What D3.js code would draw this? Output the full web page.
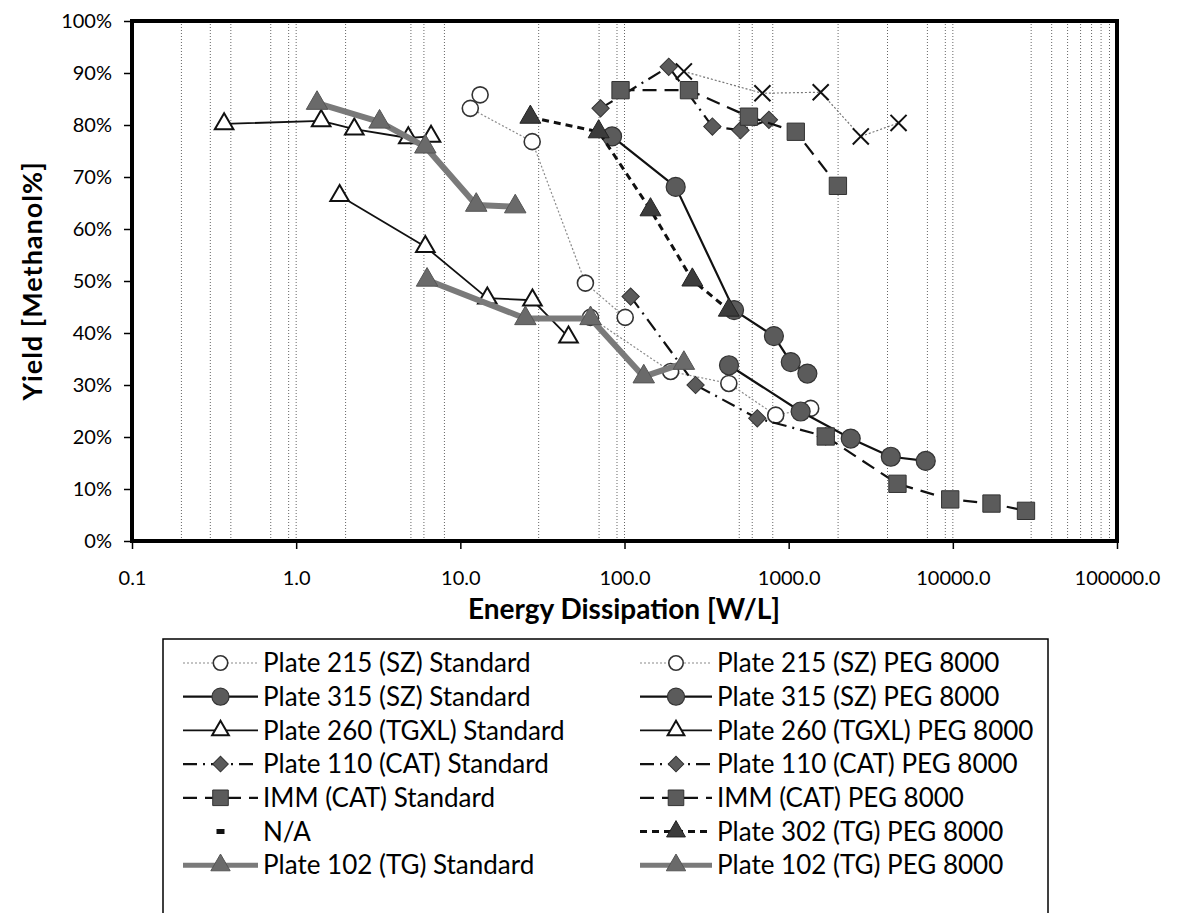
<!DOCTYPE html>
<html><head><meta charset="utf-8">
<script src="https://cdn.jsdelivr.net/npm/d3@7"></script>
<style>
body{margin:0;background:#fff;}
text{font-family:Lato,"Liberation Sans",sans-serif;fill:#000;}
</style></head>
<body>
<svg id="c" width="1179" height="913"></svg>
<script>
// ---------- data ----------
const xTicks = [0.1, 1, 10, 100, 1000, 10000, 100000];
const xTickLabels = ["0.1", "1.0", "10.0", "100.0", "1000.0", "10000.0", "100000.0"];
const yTicks = [0, 10, 20, 30, 40, 50, 60, 70, 80, 90, 100];
const yTickLabels = ["0%", "10%", "20%", "30%", "40%", "50%", "60%", "70%", "80%", "90%", "100%"];
// vertical gridlines visible in the reference
const gridValues = [0.2, 0.3, 0.4, 0.7, 0.9, 1, 2, 5, 6, 8, 30, 70, 90, 100, 500, 600, 800,
  2000, 4000, 7000, 9000, 10000, 30000, 40000, 50000, 60000, 70000, 80000, 90000];

const plate215Std = [[11.5, 83.2], [27.4, 76.8], [57.8, 49.6], [101, 43.0]];
const plate215Peg = [[13.2, 85.8], [null, null], [62, 43.0], [191, 32.6], [432, 30.3], [834, 24.2], [1362, 25.5]];
const plate315Std = [[84, 77.8], [205, 68.1], [465, 44.4], [813, 39.4], [1030, 34.4], [1300, 32.2]];
const plate315Peg = [[433, 33.8], [1183, 24.9], [2388, 19.7], [4190, 16.2], [6840, 15.4]];
const plate260Std = [[0.364, 80.2], [1.42, 80.8], [2.26, 79.2], [4.82, 77.5], [6.63, 77.8]];
const plate260Peg = [[1.84, 66.4], [6.12, 56.6], [14.6, 46.7], [27.5, 46.3], [45.6, 39.2]];
const plate110Std = [[109, 47.0], [271, 30.0], [644, 23.6], [1682, 20.1]];
const plate110Peg = [[71.5, 83.2], [186, 91.2], [343, 79.7], [509, 79.0], [758, 81.0]];
const immStd = [[1682, 20.1], [4600, 11.0], [9640, 8.0], [17200, 7.2], [27900, 5.8]];
const immPeg = [[94.6, 86.7], [247, 86.7], [573, 81.6], [1105, 78.7], [1995, 68.3]];
const naSeries = [[230, 90.3], [692, 86.1], [1567, 86.3], [2750, 77.8], [4670, 80.4]];
const plate302Peg = [[26.7, 81.5], [69.6, 78.7], [144, 63.7], [259, 50.2], [432, 44.4]];
const plate102Std = [[6.27, 50.2], [24.9, 42.8], [62.1, 42.8], [131, 31.6], [230, 34.2]];
const plate102Peg = [[1.34, 84.2], [3.22, 80.6], [6.12, 75.8], [12.5, 64.6], [21.6, 64.3]];

const legendLeft = ["Plate 215 (SZ) Standard", "Plate 315 (SZ) Standard", "Plate 260 (TGXL) Standard",
  "Plate 110 (CAT) Standard", "IMM (CAT) Standard", "N/A", "Plate 102 (TG) Standard"];
const legendRight = ["Plate 215 (SZ) PEG 8000", "Plate 315 (SZ) PEG 8000", "Plate 260 (TGXL) PEG 8000",
  "Plate 110 (CAT) PEG 8000", "IMM (CAT) PEG 8000", "Plate 302 (TG) PEG 8000", "Plate 102 (TG) PEG 8000"];

// ---------- styles ----------
const FILL = "#5b5b5b";
const styles = {
  s215: {stroke: "#8a8a8a", width: 1.2, dash: "2,2", marker: "openCircle"},
  s315: {stroke: "#111", width: 2.2, dash: null, marker: "filledCircle"},
  s260: {stroke: "#111", width: 1.8, dash: null, marker: "openTriangle"},
  s110: {stroke: "#111", width: 2.2, dash: "14,6,2,6", marker: "diamond"},
  simm: {stroke: "#111", width: 2.2, dash: "14,8", marker: "square"},
  sna: {stroke: "#777", width: 1.2, dash: "2,2", marker: "times"},
  s302: {stroke: "#111", width: 3, dash: "7,5", marker: "filledTriangle"},
  s102: {stroke: "#7a7a7a", width: 6, dash: null, marker: "bigTriangle"}
};

const series = [
  {data: plate215Std, st: styles.s215},
  {data: plate215Peg, st: styles.s215},
  {data: plate315Std, st: styles.s315},
  {data: plate315Peg, st: styles.s315},
  {data: plate260Std, st: styles.s260},
  {data: plate260Peg, st: styles.s260},
  {data: plate110Std, st: styles.s110},
  {data: plate110Peg, st: styles.s110},
  {data: immStd, st: styles.simm},
  {data: immPeg, st: styles.simm},
  {data: naSeries, st: styles.sna},
  {data: plate302Peg, st: styles.s302},
  {data: plate102Std, st: styles.s102},
  {data: plate102Peg, st: styles.s102}
];

// ---------- layout ----------
const svg = d3.select("#c");
const L = 132, R = 1117, T = 21, B = 541;
const x = d3.scaleLog().domain([0.1, 100000]).range([L, R]);
const y = d3.scaleLinear().domain([0, 100]).range([B, T]);

svg.append("g").selectAll("line").data(gridValues).join("line")
  .attr("x1", d => x(d)).attr("x2", d => x(d)).attr("y1", T).attr("y2", B)
  .attr("stroke", "#666").attr("stroke-width", 1).attr("stroke-dasharray", "1,2");

// axes
const xAxis = d3.axisBottom(x).tickValues(xTicks).tickFormat((d, i) => xTickLabels[i]).tickSize(8).tickPadding(22);
const gx = svg.append("g").attr("transform", `translate(0,${B})`).call(xAxis);
gx.select(".domain").remove();
gx.selectAll("line").attr("stroke", "#000").attr("stroke-width", 1.5);
gx.selectAll("text").attr("font-size", 20).attr("font-family", "Lato");

const yAxis = d3.axisLeft(y).tickValues(yTicks).tickFormat((d, i) => yTickLabels[i]).tickSize(8).tickPadding(12);
const gy = svg.append("g").attr("transform", `translate(${L},0)`).call(yAxis);
gy.select(".domain").remove();
gy.selectAll("line").attr("stroke", "#000").attr("stroke-width", 1.5);
gy.selectAll("text").attr("font-size", 20).attr("font-family", "Lato");

// markers
function drawMarker(g, type, cx, cy, scale) {
  scale = scale || 1;
  const t = `translate(${cx},${cy})`;
  if (type === "openCircle") {
    g.append("circle").attr("cx", cx).attr("cy", cy).attr("r", 8 * scale)
      .attr("fill", "#fff").attr("stroke", "#333").attr("stroke-width", 1.6);
  } else if (type === "filledCircle") {
    g.append("circle").attr("cx", cx).attr("cy", cy).attr("r", 9.5 * scale)
      .attr("fill", FILL).attr("stroke", "#333").attr("stroke-width", 1.2);
  } else if (type === "openTriangle") {
    g.append("path").attr("d", d3.symbol(d3.symbolTriangle, 150 * scale * scale)()).attr("transform", t)
      .attr("fill", "#fff").attr("stroke", "#111").attr("stroke-width", 2);
  } else if (type === "filledTriangle") {
    g.append("path").attr("d", d3.symbol(d3.symbolTriangle, 190 * scale * scale)()).attr("transform", t)
      .attr("fill", "#3c3c3c").attr("stroke", "#222").attr("stroke-width", 1);
  } else if (type === "bigTriangle") {
    g.append("path").attr("d", d3.symbol(d3.symbolTriangle, 200 * scale * scale)()).attr("transform", t)
      .attr("fill", "#6a6a6a").attr("stroke", "#555").attr("stroke-width", 1);
  } else if (type === "square") {
    g.append("path").attr("d", d3.symbol(d3.symbolSquare, 300 * scale * scale)()).attr("transform", t)
      .attr("fill", FILL).attr("stroke", "#333").attr("stroke-width", 1);
  } else if (type === "diamond") {
    g.append("path").attr("d", d3.symbol(d3.symbolSquare, 150 * scale * scale)()).attr("transform", t + " rotate(45)")
      .attr("fill", FILL).attr("stroke", "#333").attr("stroke-width", 1);
  } else if (type === "times") {
    g.append("path").attr("d", d3.symbol(d3.symbolTimes, 170 * scale * scale)()).attr("transform", t)
      .attr("fill", "none").attr("stroke", "#111").attr("stroke-width", 2);
  } else if (type === "dash") {
    g.append("rect").attr("x", cx - 4).attr("y", cy - 2.5).attr("width", 8).attr("height", 5).attr("fill", "#111");
  }
}

const line = d3.line().defined(d => d[0] !== null).x(d => x(d[0])).y(d => y(d[1]));
const plot = svg.append("g");
series.forEach(s => {
  const g = plot.append("g");
  g.append("path").attr("d", line(s.data)).attr("fill", "none")
    .attr("stroke", s.st.stroke).attr("stroke-width", s.st.width)
    .attr("stroke-dasharray", s.st.dash).attr("stroke-linejoin", "round");
  s.data.filter(d => d[0] !== null).forEach(d => drawMarker(g, s.st.marker, x(d[0]), y(d[1])));
});

// plot border
svg.append("rect").attr("x", L).attr("y", T).attr("width", R - L).attr("height", B - T)
  .attr("fill", "none").attr("stroke", "#000").attr("stroke-width", 4);

// axis titles
svg.append("text").attr("x", 624).attr("y", 619).attr("text-anchor", "middle")
  .attr("font-size", 28).attr("font-weight", "bold").text("Energy Dissipation [W/L]");
svg.append("text").attr("transform", `translate(42,${(T + B) / 2}) rotate(-90)`).attr("text-anchor", "middle")
  .attr("font-size", 27).attr("font-weight", "bold").attr("letter-spacing", 1).text("Yield [Methanol%]");

// legend
const leg = svg.append("g");
leg.append("rect").attr("x", 163).attr("y", 639).attr("width", 885).attr("height", 320)
  .attr("fill", "#fff").attr("stroke", "#000").attr("stroke-width", 1.5);
const leftStyles = [styles.s215, styles.s315, styles.s260, styles.s110, styles.simm, null, styles.s102];
const rightStyles = [styles.s215, styles.s315, styles.s260, styles.s110, styles.simm, styles.s302, styles.s102];
function legendRow(label, st, x0, x1, tx, cy, isNA) {
  const g = leg.append("g");
  if (!isNA) {
    g.append("line").attr("x1", x0).attr("x2", x1).attr("y1", cy).attr("y2", cy)
      .attr("stroke", st.stroke).attr("stroke-width", Math.min(st.width, 5)).attr("stroke-dasharray", st.dash);
    drawMarker(g, st.marker, (x0 + x1) / 2, cy, 0.9);
  } else {
    drawMarker(g, "dash", (x0 + x1) / 2, cy);
  }
  g.append("text").attr("x", tx).attr("y", cy).attr("dy", "0.35em").attr("font-size", 26).text(label);
}
legendLeft.forEach((lab, i) => legendRow(lab, leftStyles[i], 183, 258, 263, 663 + i * 33.7, lab === "N/A"));
legendRight.forEach((lab, i) => legendRow(lab, rightStyles[i], 640, 712, 717, 663 + i * 33.7, false));
</script>
</body></html>
